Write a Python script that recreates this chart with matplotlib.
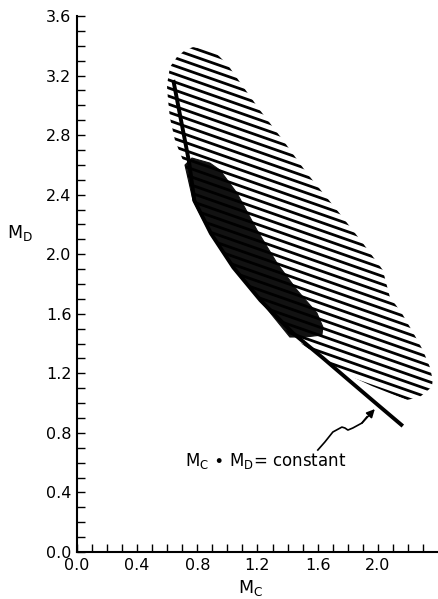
import numpy as np
import matplotlib
matplotlib.use('Agg')
from matplotlib import pyplot as plt
from matplotlib.patches import Polygon
from matplotlib.collections import LineCollection

# Courbe M_C * M_D = constant
courbe_mc = [0.64, 0.745, 0.78, 0.89, 1.04, 1.22, 1.435, 1.635, 1.814, 1.993, 2.166]
courbe_md = [3.17, 2.62, 2.36, 2.14, 1.91, 1.69, 1.471, 1.303, 1.148, 0.994, 0.846]

# Contour de la zone hachurée
hach_mc = [0.605, 0.598, 0.618, 0.664, 0.718, 0.771, 0.850, 0.930, 1.003, 1.083,
           1.216, 1.369, 1.528, 1.728, 1.900, 2.033, 2.080, 2.159, 2.233, 2.299,
           2.346, 2.365, 2.359, 2.279, 2.193, 1.960, 1.728, 1.568, 1.415, 1.216,
           1.037, 0.884, 0.771, 0.718, 0.684, 0.651, 0.618]
hach_md = [3.036, 3.136, 3.257, 3.324, 3.371, 3.391, 3.378, 3.345, 3.271, 3.156,
           2.968, 2.767, 2.545, 2.297, 2.075, 1.894, 1.713, 1.605, 1.477, 1.357,
           1.242, 1.155, 1.108, 1.041, 1.021, 1.115, 1.225, 1.345, 1.455, 1.700,
           1.920, 2.150, 2.370, 2.599, 2.680, 2.767, 2.915]

# Contour de la zone noire
noir_mc = [0.764, 0.884, 0.950, 1.063, 1.196, 1.329, 1.462, 1.595, 1.635, 1.628,
           1.515, 1.415, 1.216, 1.037, 0.884, 0.771, 0.718]
noir_md = [2.646, 2.612, 2.565, 2.411, 2.163, 1.941, 1.760, 1.605, 1.511, 1.457,
           1.444, 1.444, 1.692, 1.914, 2.142, 2.364, 2.599]

# Flèche ondulée vers la courbe
fleche_mc = [1.601, 1.648, 1.701, 1.761, 1.781, 1.801, 1.834, 1.894, 1.927, 1.980]
fleche_md = [0.685, 0.739, 0.806, 0.839, 0.833, 0.819, 0.833, 0.866, 0.907, 0.960]

x_ticks = [0.0, 0.4, 0.8, 1.2, 1.6, 2.0]
y_ticks = [0.0, 0.4, 0.8, 1.2, 1.6, 2.0, 2.4, 2.8, 3.2, 3.6]

plt.rcParams['font.family'] = ['DejaVu Sans']

fig = plt.figure(figsize=(4.39, 5.99), dpi=100)
ax = fig.add_axes([77/439, 47/599, 361/439, 536/599])
ax.set_xlim(0, 2.4)
ax.set_ylim(0, 3.6)

# Hachures: lignes parallèles découpées par le contour
zone = Polygon(list(zip(hach_mc, hach_md)), closed=True, facecolor='none', edgecolor='none')
ax.add_patch(zone)
pente = -0.35 * 150.5 / 148.9
ecart = 8.1 / 148.9
segs = [[(0.4, c + pente*0.4), (2.6, c + pente*2.6)] for c in np.arange(1.70, 3.80, ecart)]
lc = LineCollection(segs, colors='black', linewidths=2.0, capstyle='butt')
ax.add_collection(lc)
lc.set_clip_path(zone)

ax.add_patch(Polygon(list(zip(noir_mc, noir_md)), closed=True,
                     facecolor='#121212', edgecolor='#121212', lw=0.8))

ax.plot(courbe_mc, courbe_md, color='black', lw=2.8, solid_capstyle='butt')

ax.plot(fleche_mc[:-1], fleche_md[:-1], color='black', lw=1.2)
ax.annotate('', xy=(fleche_mc[-1], fleche_md[-1]), xytext=(fleche_mc[-3], fleche_md[-3]),
            arrowprops=dict(arrowstyle='-|>', color='black', lw=1.2,
                            mutation_scale=12, shrinkA=0, shrinkB=0))

ax.text(0.718, 0.611, r'M$_\mathregular{C}$ $\bullet$ M$_\mathregular{D}$= constant',
        fontsize=12, ha='left', va='center')

ax.spines['top'].set_visible(False)
ax.spines['right'].set_visible(False)
for s in ('left', 'bottom'):
    ax.spines[s].set_linewidth(1.5)

ax.set_xticks(x_ticks)
ax.set_xticklabels(['%.1f' % v for v in x_ticks])
ax.set_xticks(np.arange(0.1, 2.35, 0.1), minor=True)
ax.set_yticks(y_ticks)
ax.set_yticklabels(['%.1f' % v for v in y_ticks])
ax.set_yticks(np.arange(0.1, 3.55, 0.1), minor=True)
ax.tick_params(which='both', direction='in', length=5.5, width=1.0)
ax.tick_params(axis='both', which='major', labelsize=11.5)
ax.tick_params(axis='y', pad=4)
ax.tick_params(axis='x', pad=4)

fig.text(250/439, 1 - 588/599, r'M$_\mathregular{C}$', fontsize=12.5, ha='center', va='center')
fig.text(20/439, 1 - 233/599, r'M$_\mathregular{D}$', fontsize=12.5, ha='center', va='center')

fig.savefig('out.png', dpi=100)
